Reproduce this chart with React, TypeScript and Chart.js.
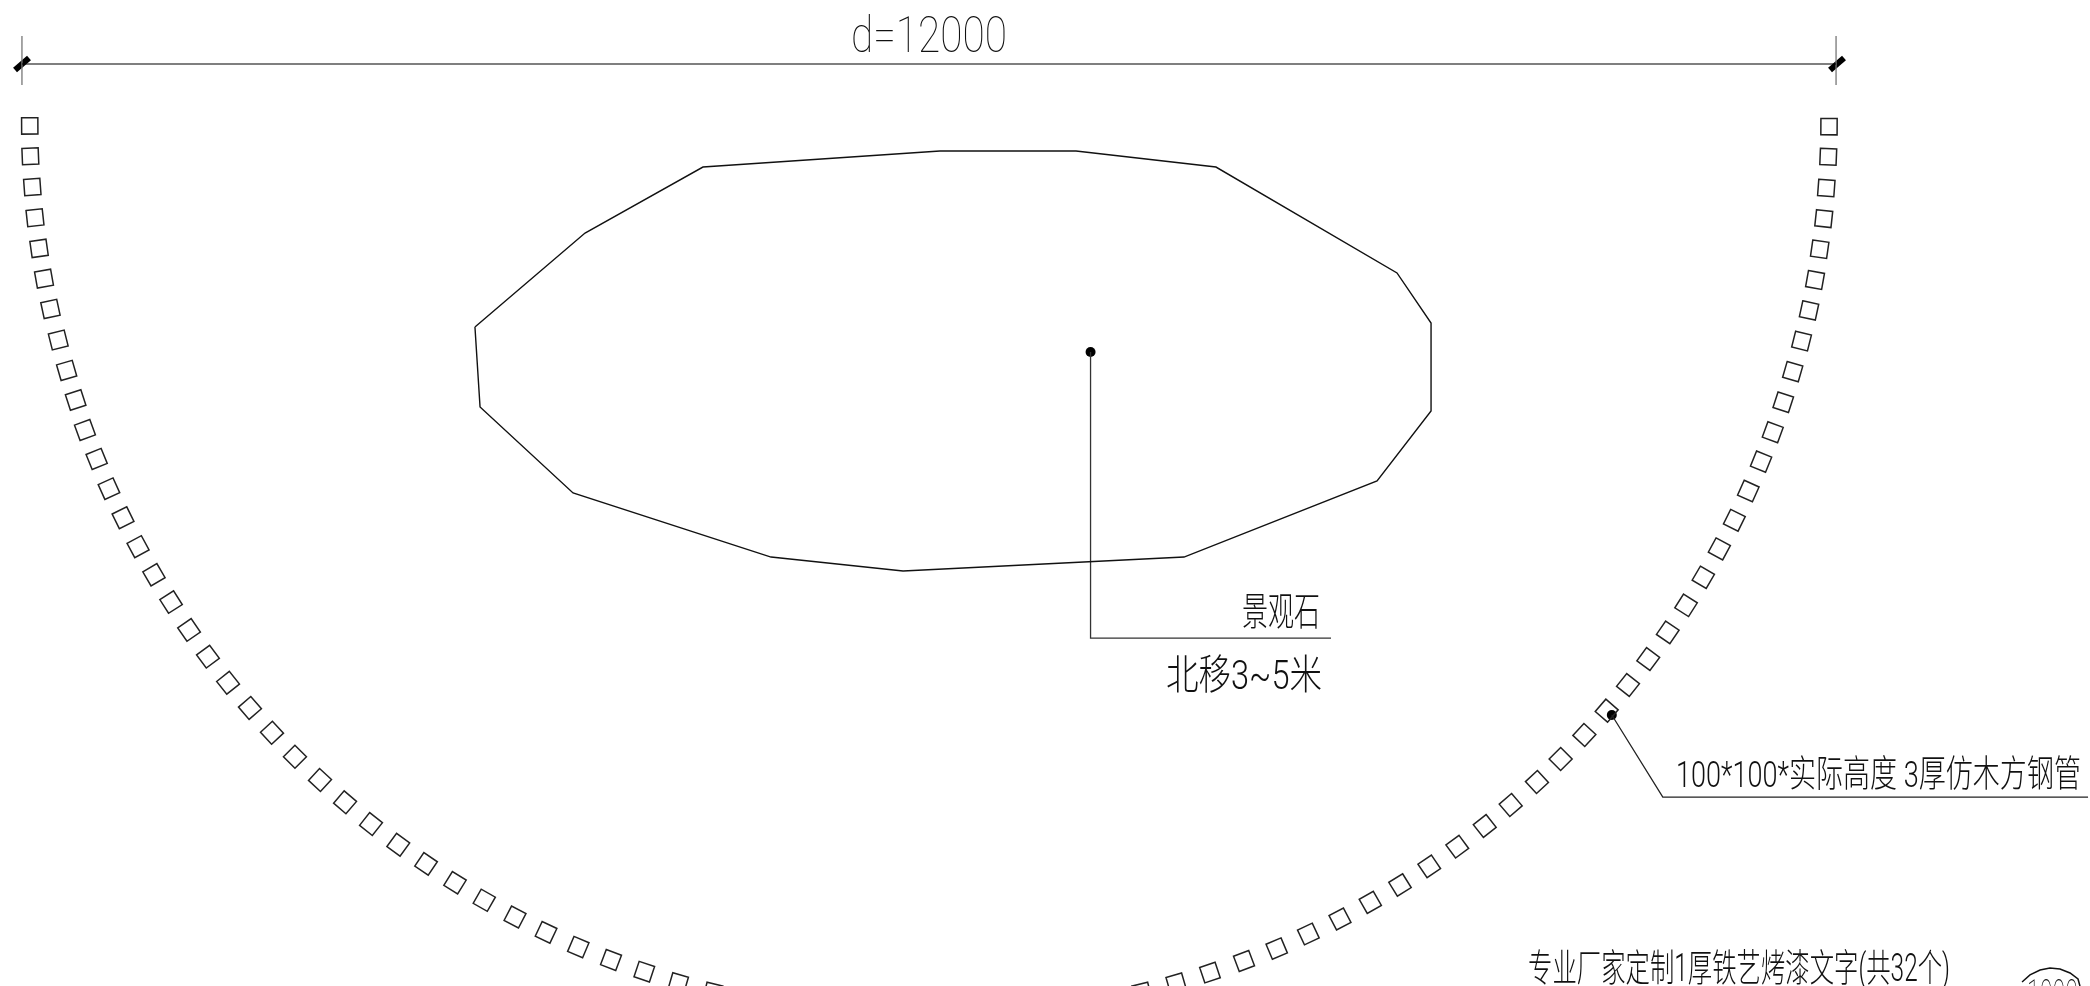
import React, { useEffect, useRef } from "react";
import { Chart, registerables } from "chart.js";

Chart.register(...registerables);

// All geometry in millimetres, origin at the centre of the ring, y growing downwards.
const leftX = [-5995,-5991,-5978,-5960,-5933,-5900,-5857,-5805,-5749,-5689,-5627,-5549,-5467,-5373,-5273,-5167,-5053,-4933,-4807,-4673,-4527,-4380,-4227,-4060,-3893,-3720,-3538,-3353,-3160,-2965,-2760,-2553,-2338,-2120,-1898,-1671,-1440];
const leftY = [33,235,440,645,849,1051,1253,1460,1663,1860,2060,2253,2451,2645,2838,3025,3207,3393,3571,3745,3913,4078,4238,4393,4542,4687,4825,4953,5078,5195,5307,5409,5507,5593,5671,5745,5807];
const rightX = [6000,5995,5982,5965,5938,5907,5867,5817,5758,5695,5625,5547,5462,5369,5269,5162,5047,4925,4795,4660,4518,4369,4211,4053,3878,3705,3522,3335,3140,2942,2740,2529,2318,2100,1873,1647,1418];
const rightY = [38,238,447,651,855,1060,1263,1467,1671,1875,2075,2271,2467,2662,2853,3042,3229,3409,3587,3760,3931,4093,4253,4407,4560,4700,4838,4969,5093,5209,5320,5420,5517,5600,5677,5747,5807];
const ringTurn = [0.3,2.3,4.2,6.2,8.1,10.1,12.1,14.1,16.1,18.1,20.1,22.1,24.2,26.2,28.3,30.3,32.4,34.5,36.6,38.7,40.8,42.9,45.1,47.3,49.4,51.6,53.7,55.9,58.1,60.3,62.5,64.7,67,69.2,71.5,73.8,76.1];

const stoneX = [-3027,-2993,-2373,-1053,-173,1700,2987,3347,3347,3120,1913,980,73,-1507,-2293,-3027];
const stoneY = [1373,1907,2480,2907,3000,2907,2400,1933,1347,1013,307,200,200,307,747,1373];

const dimX = [-6047, 6047];
const dimY = [-380, -380];
const dimTickLeftX = [-6047, -6047];
const dimTickRightX = [6047, 6047];
const dimTickY = [-567, -240];
const slashLeftX = [-6093, -6000];
const slashRightX = [6007, 6100];
const slashY = [-340, -420];

const stoneLeaderX = [1077, 1077, 2680];
const stoneLeaderY = [1540, 3447, 3447];
const tubeLeaderX = [4552, 4892, 7727];
const tubeLeaderY = [3960, 4507, 4507];
const stampX = [7287, 7340, 7407, 7473, 7540, 7607, 7660, 7673];
const stampY = [5740, 5693, 5660, 5647, 5653, 5680, 5720, 5767];

const dimLabel = "d=12000";
const stoneLabel = "景观石";
const moveLabel = "北移3~5米";
const tubeLabel = "100*100*实际高度 3厚仿木方钢管";
const textLabel = "专业厂家定制1厚铁艺烤漆文字(共32个)";
const stampLabel = "1000";

const SCALE = 20 / 3;
const toX = (px: number) => (px - 929) * SCALE;
const toY = (py: number) => (py - 121) * SCALE;

const CJK = '"Noto Sans CJK SC"';
const MIXED = 'Roboto, "Noto Sans CJK SC"';

type Lab = { text: string; left: number; right: number; base: number; size: number; font: string; weight: number };
const placed: Lab[] = [
  { text: dimLabel, left: toX(851), right: toX(1007), base: toY(52), size: 50, font: "Roboto", weight: 100 },
  { text: stoneLabel, left: toX(1242), right: toX(1320), base: toY(625), size: 39, font: CJK, weight: 300 },
  { text: moveLabel, left: toX(1166), right: toX(1322), base: toY(689), size: 41, font: MIXED, weight: 300 },
  { text: tubeLabel, left: toX(1676), right: toX(2081), base: toY(787), size: 37, font: MIXED, weight: 300 },
  { text: textLabel, left: toX(1528), right: toX(1950), base: toY(981), size: 38, font: MIXED, weight: 300 },
  { text: stampLabel, left: toX(2027), right: toX(2078), base: toY(1011), size: 45, font: "Roboto", weight: 100 },
];

const textPlugin = {
  id: "cadText",
  afterDatasetsDraw(chart: any) {
    const { ctx, scales } = chart;
    placed.forEach((l) => {
      ctx.save();
      ctx.font = `${l.weight} ${l.size}px ${l.font}`;
      ctx.fillStyle = "#111";
      ctx.textBaseline = "alphabetic";
      ctx.textAlign = "left";
      const x0 = scales.x.getPixelForValue(l.left);
      const x1 = scales.x.getPixelForValue(l.right);
      const y = scales.y.getPixelForValue(l.base);
      const w = ctx.measureText(l.text).width;
      ctx.translate(x0, y);
      ctx.scale((x1 - x0) / w, 1);
      ctx.fillText(l.text, 0, 0);
      ctx.restore();
    });
  },
};

const zip = (xs: number[], ys: number[]) => xs.map((x, i) => ({ x, y: ys[i] }));
const line = (xs: number[], ys: number[], color = "#111", width = 1.4) => ({
  type: "line" as const,
  data: zip(xs, ys),
  borderColor: color,
  borderWidth: width,
  pointRadius: 0,
  showLine: true,
  tension: 0,
});
const ring = (xs: number[], ys: number[], sign: number) => ({
  type: "scatter" as const,
  data: zip(xs, ys),
  pointStyle: "rect",
  pointRadius: 11.5,
  pointRotation: ringTurn.map((a) => sign * a),
  pointBackgroundColor: "rgba(0,0,0,0)",
  pointBorderColor: "#222",
  pointBorderWidth: 1.5,
  showLine: false,
});
const dots = (xs: number[], ys: number[]) => ({
  type: "scatter" as const,
  data: zip(xs, ys),
  pointStyle: "circle",
  pointRadius: 5,
  pointBackgroundColor: "#000",
  pointBorderColor: "#000",
  pointBorderWidth: 0,
  showLine: false,
});

export default function App() {
  const ref = useRef<HTMLCanvasElement>(null);
  useEffect(() => {
    document.body.style.margin = "0";
    document.body.style.background = "#fff";
    const chart = new Chart(ref.current!, {
      data: {
        datasets: [
          ring(leftX, leftY, -1),
          ring(rightX, rightY, 1),
          line(stoneX, stoneY),
          line(dimX, dimY, "#000", 1.2),
          line(dimTickLeftX, dimTickY, "#777", 1.3),
          line(dimTickRightX, dimTickY, "#777", 1.3),
          line(slashLeftX, slashY, "#000", 6),
          line(slashRightX, slashY, "#000", 6),
          line(stoneLeaderX, stoneLeaderY, "#333", 1.3),
          line(tubeLeaderX, tubeLeaderY, "#222", 1.3),
          line(stampX, stampY, "#111", 1.5),
          dots([stoneLeaderX[0], tubeLeaderX[0]], [stoneLeaderY[0], tubeLeaderY[0]]),
        ] as any,
      },
      options: {
        animation: false,
        responsive: false,
        devicePixelRatio: 1,
        layout: { padding: 0, autoPadding: false },
        plugins: { legend: { display: false }, tooltip: { enabled: false }, title: { display: false } },
        scales: {
          x: { type: "linear", display: false, min: toX(0), max: toX(2090) },
          y: { type: "linear", display: false, reverse: true, min: toY(0), max: toY(986) },
        },
      } as any,
      plugins: [textPlugin],
    });
    return () => chart.destroy();
  }, []);
  return (
    <div style={{ position: "fixed", left: 0, top: 0, width: 2090, height: 986, background: "#fff" }}>
      <canvas ref={ref} width={2090} height={986} style={{ display: "block", width: 2090, height: 986 }} />
    </div>
  );
}
